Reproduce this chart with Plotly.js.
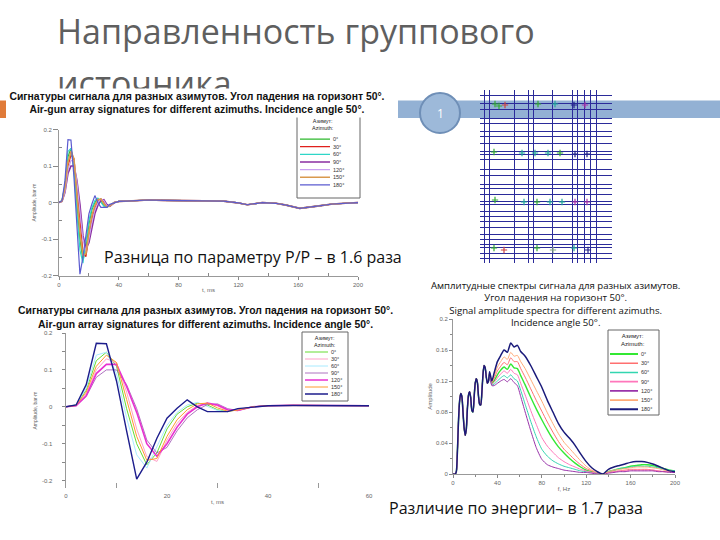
<!DOCTYPE html>
<html><head><meta charset="utf-8">
<script src="https://cdn.plot.ly/plotly-3.0.1.min.js"></script>
<style>html,body{margin:0;padding:0;background:#fff}#chart{width:720px;height:540px}</style>
</head><body><div id="chart"></div>
<script>
// ---------------- DATA ----------------
const azimuths = ['0°','30°','60°','90°','120°','150°','180°'];

// Signatures (time, ms) — head 0..37 ms, tail 40..200 ms
const tHead = [0,2,4,6,8,10,12,14,16,18,20,22,24,26,28,30,32,34,37];
const tTail = [40,45,50,55,60,70,80,90,100,110,120,126,136,145,152,161,174,183,200];
const sigTail = [0.003,0.004,0.005,0.006,0.007,0.006,0.006,0.005,0.005,0.004,-0.001,-0.006,0.0,-0.002,-0.007,-0.016,-0.009,-0.004,0.0];
const sig0   = [0,0.005,0.045,0.125,0.148,0.11,-0.005,-0.1,-0.157,-0.125,-0.06,-0.02,0.0,0.01,0.005,-0.008,-0.013,-0.008,0.0];
const sig30  = [0,0.004,0.035,0.10,0.13,0.12,0.04,-0.06,-0.135,-0.148,-0.09,-0.045,-0.015,0.003,0.01,0.002,-0.01,-0.01,0.0];
const sig60  = [0,0.005,0.05,0.14,0.148,0.09,-0.03,-0.13,-0.166,-0.11,-0.05,-0.015,0.005,0.012,0.0,-0.01,-0.013,-0.007,0.0];
const sig90  = [0,0.003,0.028,0.08,0.10,0.10,0.06,-0.005,-0.09,-0.125,-0.11,-0.065,-0.03,-0.008,0.006,0.008,-0.005,-0.01,0.0];
const sig120 = [0,0.003,0.03,0.09,0.115,0.115,0.055,-0.015,-0.10,-0.134,-0.10,-0.055,-0.02,0.0,0.01,0.005,-0.008,-0.01,0.0];
const sig150 = [0,0.004,0.04,0.11,0.14,0.12,0.02,-0.08,-0.145,-0.14,-0.08,-0.035,-0.008,0.008,0.01,-0.003,-0.012,-0.009,0.0];
const sig180 = [0,0.005,0.06,0.172,0.171,0.07,-0.065,-0.196,-0.15,-0.085,-0.031,-0.004,0.019,0.0,-0.013,-0.013,-0.013,-0.005,0.0];

// Spectra (frequency, Hz) — common low part and per-azimuth high part
const fLow = [0,2,3,4,5,6,7,8,9,10,11,12,13,14,15,16,17,18,19,20,21,22,23,24,25,26,27,28,29,30,31,32];
const specLow = [0,0,0.003,0.03,0.07,0.095,0.104,0.1,0.08,0.06,0.05,0.058,0.085,0.102,0.106,0.098,0.082,0.08,0.098,0.117,0.123,0.118,0.1,0.09,0.089,0.105,0.128,0.14,0.137,0.125,0.117,0.12];
const fHigh = [33,35,37,40,43,46,49,52,55,58,61,65,70,75,80,85,90,95,100,105,110,115,120,125,130,135,140,145,150,155,160,165,170,175,180,185,190,195,200];
const spec0   = [0.129,0.117,0.12,0.128,0.134,0.138,0.135,0.142,0.137,0.136,0.127,0.115,0.099,0.084,0.07,0.057,0.045,0.035,0.027,0.02,0.014,0.009,0.005,0.003,0.001,0.0,0.003,0.005,0.007,0.008,0.01,0.011,0.012,0.012,0.011,0.009,0.007,0.005,0.004];
const spec30  = [0.13,0.118,0.123,0.133,0.139,0.144,0.141,0.150,0.145,0.145,0.136,0.125,0.11,0.095,0.081,0.067,0.054,0.042,0.032,0.025,0.018,0.012,0.007,0.004,0.001,0.0,0.002,0.003,0.004,0.005,0.006,0.006,0.006,0.006,0.005,0.004,0.003,0.003,0.002];
const spec60  = [0.127,0.115,0.116,0.12,0.124,0.127,0.124,0.128,0.123,0.12,0.108,0.09,0.068,0.048,0.032,0.023,0.017,0.013,0.01,0.008,0.006,0.004,0.003,0.002,0.001,0.0,0.003,0.005,0.007,0.008,0.009,0.01,0.01,0.01,0.009,0.008,0.006,0.005,0.004];
const spec90  = [0.128,0.116,0.118,0.124,0.129,0.133,0.13,0.135,0.13,0.128,0.117,0.102,0.082,0.064,0.047,0.036,0.028,0.021,0.016,0.012,0.009,0.006,0.004,0.002,0.001,0.0,0.002,0.003,0.004,0.004,0.005,0.005,0.005,0.005,0.005,0.004,0.003,0.003,0.002];
const spec120 = [0.126,0.114,0.114,0.117,0.12,0.122,0.119,0.123,0.118,0.114,0.1,0.08,0.056,0.034,0.019,0.012,0.009,0.007,0.005,0.004,0.003,0.002,0.002,0.001,0.0,0.0,0.001,0.002,0.003,0.003,0.004,0.004,0.004,0.004,0.004,0.003,0.003,0.002,0.002];
const spec150 = [0.131,0.119,0.126,0.138,0.145,0.151,0.148,0.157,0.152,0.153,0.145,0.136,0.122,0.108,0.094,0.079,0.065,0.052,0.041,0.033,0.025,0.017,0.01,0.005,0.002,0.0,0.003,0.005,0.006,0.007,0.008,0.009,0.009,0.009,0.008,0.007,0.005,0.004,0.003];
const spec180 = [0.132,0.12,0.13,0.145,0.153,0.16,0.157,0.169,0.164,0.166,0.158,0.152,0.14,0.126,0.112,0.095,0.08,0.065,0.054,0.046,0.037,0.026,0.016,0.008,0.003,0.0,0.006,0.009,0.011,0.013,0.015,0.016,0.016,0.015,0.013,0.01,0.007,0.004,0.003];

// Survey grid diagram: grid line positions and symbol positions (diagram units)
const gridVert = [4.7,9.7,34.7,48,53,72,92,97.3,104,110.7,116.7];
const gridHorz = [5.3,13,19.7,28.7,33,41,46,53,61,64,69.7,79.7,85,94.7,98,104.7,111,114,121.3,126,131,137,144.7,149.7,154.7,157.3,163,168];
const symX = [15,19,25,58,75,94,105, 14,42,55,68,80,95,107, 15,44,57,70,82,95,107, 14,24,57,73,94,108];
const symY = [14,16,15,14,14,15,15, 62,63,63,63,63,64,64, 110,112,112,112,112,112,112, 158,160,158,160,158,160];
const symC = ['#3a3','#3a3','#c44','#3a3','#2a9','#228','#a3a', '#3a3','#2a9','#2a9','#2a9','#3a3','#228','#228', '#3a3','#2a9','#3a3','#2a9','#2a9','#a3a','#a3a', '#3a3','#c44','#3a3','#8a8','#2a9','#228'];

// ---------------- STYLE ----------------
const sigs = [sig0,sig30,sig60,sig90,sig120,sig150,sig180];
const specs = [spec0,spec30,spec60,spec90,spec120,spec150,spec180];
const col1 = ['#2db82d','#e0201c','#2ed6c8','#8a2ea0','#c9a0f0','#d99a4e','#5b5bd0'];
const w1   = [1.2,1.2,1.2,1.6,1.2,1.6,1.2];
const col2 = ['#66dd33','#ffa0c8','#a8eaff','#9a4fb0','#e830d0','#ff9a2e','#1c1c8c'];
const w2   = [1,1,1,0.8,1.6,1,1.4];
const col3 = ['#33e833','#ff7070','#33d6b0','#ff77bb','#9933aa','#ffaa77','#1a1a7a'];
const w3   = [1.4,1,1,1,1,1,1.5];

const X = p => p/720, Y = p => 1 - p/540;
const tFull = tHead.concat(tTail);
const fFull = fLow.concat(fHigh);
const traces = [];
sigs.forEach((s,i)=>{
  const full = s.concat(sigTail);
  traces.push({x:tFull,y:full,xaxis:'x',yaxis:'y',mode:'lines',line:{color:col1[i],width:w1[i]},hoverinfo:'skip',showlegend:false});
  traces.push({x:tFull,y:full,xaxis:'x3',yaxis:'y3',mode:'lines',line:{color:col2[i],width:w2[i]},hoverinfo:'skip',showlegend:false});
  traces.push({x:[0,1],y:[azimuths[i],azimuths[i]],xaxis:'x2',yaxis:'y2',mode:'lines',line:{color:col1[i],width:w1[i]},hoverinfo:'skip',showlegend:false});
  traces.push({x:[0,1],y:[azimuths[i],azimuths[i]],xaxis:'x6',yaxis:'y6',mode:'lines',line:{color:col2[i],width:w2[i]},hoverinfo:'skip',showlegend:false});
});
specs.forEach((s,i)=>{
  traces.push({x:fFull,y:specLow.concat(s),xaxis:'x7',yaxis:'y7',mode:'lines',line:{color:col3[i],width:w3[i],shape:'spline',smoothing:0.6},hoverinfo:'skip',showlegend:false});
  traces.push({x:[0,1],y:[azimuths[i],azimuths[i]],xaxis:'x8',yaxis:'y8',mode:'lines',line:{color:col3[i],width:w3[i]+0.6},hoverinfo:'skip',showlegend:false});
});
traces.push({x:symX,y:symY,xaxis:'x9',yaxis:'y9',mode:'markers',marker:{symbol:'cross-thin-open',size:4.5,color:symC,line:{color:symC,width:1.2}},hoverinfo:'skip',showlegend:false});

const tf = {family:'Liberation Sans, Arial, sans-serif',size:6,color:'#666'};
const axLine = {showline:true,linecolor:'#999',linewidth:1,zeroline:false,showgrid:false,tickfont:tf,tickcolor:'#888'};
const legY = (dom,anchor)=>({domain:dom,anchor:anchor,type:'category',categoryorder:'array',categoryarray:azimuths,range:[6.5,-0.5],side:'right',showgrid:false,zeroline:false,showline:false,ticks:'',tickfont:{family:'Liberation Sans, Arial, sans-serif',size:5.5,color:'#333'},ticklabelstandoff:2});
const legX = (dom,anchor)=>({domain:dom,anchor:anchor,range:[0,1],visible:false});

const layout = {
  width:720,height:540,margin:{l:0,r:0,t:0,b:0},
  paper_bgcolor:'#ffffff',plot_bgcolor:'rgba(0,0,0,0)',showlegend:false,
  font:{family:'Liberation Sans, Arial, sans-serif'},
  // chart 1
  xaxis:Object.assign({},axLine,{domain:[X(59),X(358)],anchor:'y',range:[0,200],tickvals:[0,40,80,120,160,200],ticks:'outside',ticklen:3,
    minor:{tickvals:[20,60,100,140,180],ticks:'inside',ticklen:3,tickcolor:'#888'},
    title:{text:'t, ms',font:{size:6,color:'#666'},standoff:1}}),
  yaxis:Object.assign({},axLine,{domain:[Y(275.6),Y(129.5)],anchor:'x',range:[-0.2,0.2],tickvals:[-0.2,-0.1,0,0.1,0.2],ticktext:['-0.2','-0.1','0','0.1','0.2'],ticks:'outside',ticklen:5,
    minor:{tickvals:[-0.15,-0.05,0.05,0.15],ticks:'inside',ticklen:3,tickcolor:'#888'},
    title:{text:'Amplitude, bar·m',font:{size:5,color:'#666'},standoff:4}}),
  xaxis2:legX([X(300),X(330)],'y2'),
  yaxis2:legY([Y(188.8),Y(135.2)],'x2'),
  // chart 2
  xaxis3:{domain:[X(66),X(369)],anchor:'y3',range:[0,60],tickvals:[0,20,40,60],showline:false,zeroline:false,showgrid:false,ticks:'',tickfont:tf,ticklabelstandoff:3,
    minor:{tickvals:[10,30,50],ticks:'inside',ticklen:5,tickcolor:'#999'},
    title:{text:'t, ms',font:{size:6,color:'#666'},standoff:1}},
  yaxis3:Object.assign({},axLine,{domain:[Y(488),Y(333)],anchor:'x3',range:[-0.22,0.2],tickvals:[-0.2,-0.1,0,0.1,0.2],ticktext:['-0.2','-0.1','0','0.1','0.2'],ticks:'outside',ticklen:3,linewidth:1.5,
    minor:{tickvals:[-0.15,-0.05,0.05,0.15],ticks:'outside',ticklen:3,tickcolor:'#888'},ticklabelstandoff:8,
    title:{text:'Amplitude, bar·m',font:{size:5,color:'#666'},standoff:4}}),
  yaxis4:{overlaying:'y3',anchor:'x3',range:[-0.22,0.2],tickvals:[0.1,0.2],showgrid:true,gridcolor:'#bbb',griddash:'dash',gridwidth:1,showticklabels:false,ticks:'',showline:false,zeroline:false},
  yaxis5:{overlaying:'y3',anchor:'x3',range:[-0.22,0.2],tickvals:[0,-0.1],showgrid:true,gridcolor:'#333',griddash:'dash',gridwidth:1,showticklabels:false,ticks:'',showline:false,zeroline:false},
  xaxis4:{overlaying:'x3',anchor:'y3',range:[0,60],tickvals:[20],showgrid:true,gridcolor:'#ccc',griddash:'dash',showticklabels:false,ticks:'',showline:false,zeroline:false},
  xaxis5:{overlaying:'x3',anchor:'y3',range:[0,60],tickvals:[40],showgrid:true,gridcolor:'#333',griddash:'dash',showticklabels:false,ticks:'',showline:false,zeroline:false},
  xaxis6:legX([X(305),X(328)],'y6'),
  yaxis6:legY([Y(397.5),Y(348.5)],'x6'),
  // chart 3 (spectra)
  xaxis7:Object.assign({},axLine,{domain:[X(453),X(675)],anchor:'y7',range:[0,200],tickvals:[0,40,80,120,160,200],ticks:'outside',ticklen:3,
    minor:{tickvals:[20,60,100,140,180],ticks:'outside',ticklen:2,tickcolor:'#888'},
    title:{text:'f, Hz',font:{size:6,color:'#666'},standoff:1}}),
  yaxis7:Object.assign({},axLine,{domain:[Y(474),Y(319)],anchor:'x7',range:[0,0.2],tickvals:[0,0.04,0.08,0.12,0.16,0.2],ticktext:['0','0.04','0.08','0.12','0.16','0.2'],ticks:'outside',ticklen:3,
    minor:{tickvals:[0.02,0.06,0.1,0.14,0.18],ticks:'outside',ticklen:2,tickcolor:'#888'},
    title:{text:'Amplitude',font:{size:6,color:'#666'},standoff:3}}),
  xaxis8:legX([X(610),X(638)],'y8'),
  yaxis8:legY([Y(413.9),Y(349.4)],'x8'),
  // grid diagram
  xaxis9:{domain:[X(480),X(612)],anchor:'y9',range:[0,132],tickvals:gridVert,showgrid:true,gridcolor:'#2b2b9a',gridwidth:1,showticklabels:false,ticks:'',zeroline:false,showline:false},
  yaxis9:{domain:[Y(263),Y(90)],anchor:'x9',range:[173,0],tickvals:gridHorz,showgrid:true,gridcolor:'#2b2b9a',gridwidth:1,showticklabels:false,ticks:'',zeroline:false,showline:false},
  shapes:[
    {type:'rect',xref:'paper',yref:'paper',x0:X(398),x1:1,y0:Y(118),y1:Y(100.5),fillcolor:'#93b1d4',line:{width:0},layer:'below'},
    {type:'rect',xref:'paper',yref:'paper',x0:0,x1:X(6),y0:Y(118),y1:Y(100.5),fillcolor:'#e07b39',line:{width:0},layer:'below'},
    {type:'circle',xref:'paper',yref:'paper',x0:X(420),x1:X(460),y0:Y(133),y1:Y(93),fillcolor:'#9db9d9',line:{color:'#6f8fb7',width:2},layer:'below'},
    {type:'rect',xref:'paper',yref:'paper',x0:X(297),x1:X(360),y0:Y(198),y1:Y(115),fillcolor:'#fff',line:{color:'#666',width:1},layer:'below'},
    {type:'rect',xref:'paper',yref:'paper',x0:X(302),x1:X(348),y0:Y(401),y1:Y(332),fillcolor:'#fff',line:{color:'#666',width:1},layer:'below'},
    {type:'rect',xref:'paper',yref:'paper',x0:X(608),x1:X(659),y0:Y(415),y1:Y(330),fillcolor:'#fff',line:{color:'#666',width:1},layer:'below'}
  ],
  annotations:[
    {text:'Направленность группового',xref:'paper',yref:'paper',x:X(55),y:Y(31),xanchor:'left',yanchor:'middle',showarrow:false,font:{family:'Open Sans, sans-serif',size:34,color:'#5f5f5f'}},
    {text:'источника',xref:'paper',yref:'paper',x:X(55),y:Y(83),xanchor:'left',yanchor:'middle',showarrow:false,font:{family:'Open Sans, sans-serif',size:34,color:'#5f5f5f'}},
    {text:'<b>Сигнатуры сигнала для разных азимутов. Угол падения на горизонт 50°.<br>Air-gun array signatures for different azimuths. Incidence angle 50°.</b>',
      xref:'paper',yref:'paper',x:X(197),y:Y(88),xanchor:'center',yanchor:'top',width:380,height:28,bgcolor:'#ffffff',borderpad:0,showarrow:false,
      font:{family:'Liberation Sans, Arial, sans-serif',size:10.4,color:'#111'}},
    {text:'1',xref:'paper',yref:'paper',x:X(440),y:Y(113),xanchor:'center',yanchor:'middle',showarrow:false,font:{family:'Open Sans, sans-serif',size:12,color:'#fff'}},
    {text:'Азимут:<br>Azimuth:',xref:'paper',yref:'paper',x:X(323),y:Y(124.5),xanchor:'center',yanchor:'middle',showarrow:false,font:{family:'Liberation Sans, Arial, sans-serif',size:5.5,color:'#222'}},
    {text:'Азимут:<br>Azimuth:',xref:'paper',yref:'paper',x:X(325),y:Y(341),xanchor:'center',yanchor:'middle',showarrow:false,font:{family:'Liberation Sans, Arial, sans-serif',size:5.5,color:'#222'}},
    {text:'Азимут:<br>Azimuth:',xref:'paper',yref:'paper',x:X(633),y:Y(340),xanchor:'center',yanchor:'middle',showarrow:false,font:{family:'Liberation Sans, Arial, sans-serif',size:6,color:'#222'}},
    {text:'Разница по параметру P/P – в 1.6 раза',xref:'paper',yref:'paper',x:X(102),y:Y(257),xanchor:'left',yanchor:'middle',showarrow:false,font:{family:'Open Sans, sans-serif',size:16,color:'#111'}},
    {text:'<b>Сигнатуры сигнала для разных азимутов. Угол падения на горизонт 50°.<br>Air-gun array signatures for different azimuths. Incidence angle 50°.</b>',
      xref:'paper',yref:'paper',x:X(205),y:Y(317),xanchor:'center',yanchor:'middle',showarrow:false,font:{family:'Liberation Sans, Arial, sans-serif',size:10.4,color:'#111'}},
    {text:'Амплитудные спектры сигнала для разных азимутов.<br>Угол падения на горизонт 50°.<br>Signal amplitude spectra for different azimuths.<br>Incidence angle 50°.',
      xref:'paper',yref:'paper',x:X(555),y:Y(304),xanchor:'center',yanchor:'middle',showarrow:false,font:{family:'Open Sans, sans-serif',size:9.6,color:'#111'}},
    {text:'Различие по энергии– в 1.7 раза',xref:'paper',yref:'paper',x:X(387),y:Y(508),xanchor:'left',yanchor:'middle',showarrow:false,font:{family:'Open Sans, sans-serif',size:16,color:'#111'}}
  ]
};
Plotly.newPlot('chart',traces,layout,{staticPlot:true});
</script></body></html>
